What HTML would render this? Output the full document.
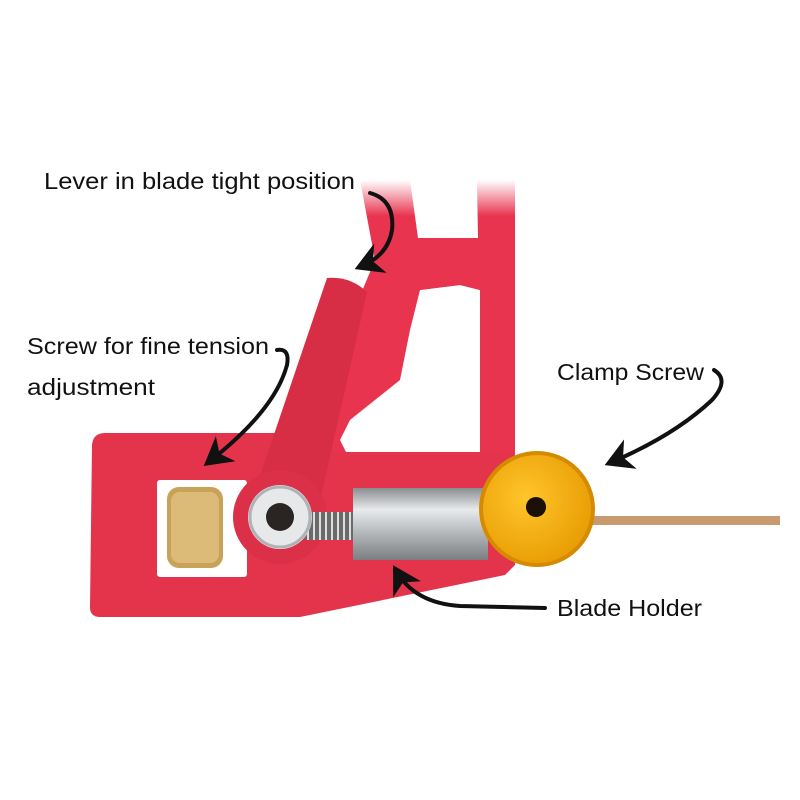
<!DOCTYPE html>
<html><head><meta charset="utf-8"><style>
html,body{margin:0;padding:0;background:#fff;}
svg{display:block}
text{font-family:"Liberation Sans",sans-serif;font-size:23px;fill:#111;}
</style></head><body>
<svg width="800" height="800" viewBox="0 0 800 800" xmlns="http://www.w3.org/2000/svg">
<defs>
<linearGradient id="fade" x1="0" y1="0" x2="0" y2="1">
<stop offset="0" stop-color="#e8344f" stop-opacity="0"/>
<stop offset="0.12" stop-color="#e8344f" stop-opacity="1"/>
</linearGradient>
<linearGradient id="cyl" x1="0" y1="0" x2="0" y2="1">
<stop offset="0" stop-color="#8a8d90"/><stop offset="0.3" stop-color="#e8eaec"/><stop offset="0.6" stop-color="#b8bbbe"/><stop offset="1" stop-color="#7c7f82"/>
</linearGradient>
<radialGradient id="gold" cx="0.4" cy="0.4" r="0.7">
<stop offset="0" stop-color="#ffc52a"/><stop offset="1" stop-color="#e69a00"/>
</radialGradient>
<marker id="ah" markerWidth="8" markerHeight="8" refX="5" refY="4" orient="auto" markerUnits="strokeWidth">
<path d="M0,0 L7,4 L0,8 L2,4 z" fill="#111"/>
</marker>
</defs>
<rect width="800" height="800" fill="#fff"/>
<!-- frame -->
<path d="M360,180 L410,180 L418,238 L478,238 L477,180 L515,180 L515,470 L470,470 L480,455 L480,290 L460,285 L420,290 L410,330 L400,380 L350,420 L340,440 L360,480 L330,450 L320,420 L350,320 L375,260 Z" fill="url(#fade)"/>
<path d="M418,238 L478,238 L480,290 L460,285 L420,290 Z" fill="#e8344f"/>
<path d="M427,295 L460,290 L480,305 L480,445 L415,448 L400,462 L345,468 L350,430 L395,398 L412,360 Z" fill="#fff"/>
<!-- base plate -->
<path d="M105,433 L290,433 L340,452 L513,452 L515,565 L505,575 L300,617 L100,617 Q90,617 90,607 L92,445 Q93,433 105,433 Z" fill="#e3344b"/>
<rect x="157" y="480" width="90" height="97" rx="3" fill="#fff"/>
<!-- brass knob -->
<rect x="167" y="487" width="56" height="81" rx="12" fill="#c9a25a"/>
<rect x="171" y="492" width="48" height="71" rx="9" fill="#dcbb78"/>
<!-- lever -->
<path d="M327,278 Q350,276 367,292 L318,510 L245,520 Z" fill="#d82e45"/>
<circle cx="280" cy="517" r="47" fill="#dc3048"/>
<rect x="305" y="512" width="55" height="28" fill="#6a6a6a"/>
<path d="M308,512 v28 M314,512 v28 M320,512 v28 M326,512 v28 M332,512 v28 M338,512 v28 M344,512 v28 M350,512 v28" stroke="#ddd" stroke-width="2"/>
<circle cx="280" cy="517" r="32" fill="#e6e8ea"/>
<circle cx="280" cy="517" r="30" fill="none" stroke="#b0b3b6" stroke-width="3"/>
<circle cx="280" cy="517" r="14" fill="#2a2522"/>
<rect x="353" y="488" width="135" height="72" fill="url(#cyl)"/>
<rect x="590" y="516" width="190" height="9" fill="#c89a70"/>
<circle cx="537" cy="509" r="58" fill="#d58a00"/>
<circle cx="537" cy="509" r="54" fill="url(#gold)"/>
<circle cx="536" cy="507" r="10" fill="#1a1008"/>
<!-- labels -->
<text x="44" y="189" textLength="311" lengthAdjust="spacingAndGlyphs">Lever in blade tight position</text>
<text x="27" y="354" textLength="242" lengthAdjust="spacingAndGlyphs">Screw for fine tension</text>
<text x="27" y="395" textLength="128" lengthAdjust="spacingAndGlyphs">adjustment</text>
<text x="557" y="380" textLength="147" lengthAdjust="spacingAndGlyphs">Clamp Screw</text>
<text x="557" y="616" textLength="145" lengthAdjust="spacingAndGlyphs">Blade Holder</text>
<g fill="none" stroke="#111" stroke-width="4" stroke-linecap="round">
<path d="M370,193 Q395,200 392,230 Q388,255 362,266" marker-end="url(#ah)"/>
<path d="M277,350 Q290,348 287,365 Q275,410 210,461" marker-end="url(#ah)"/>
<path d="M714,370 Q730,380 712,400 Q675,435 612,462" marker-end="url(#ah)"/>
<path d="M545,608 L460,606 Q415,603 397,572" marker-end="url(#ah)"/>
</g>
</svg>
</body></html>
